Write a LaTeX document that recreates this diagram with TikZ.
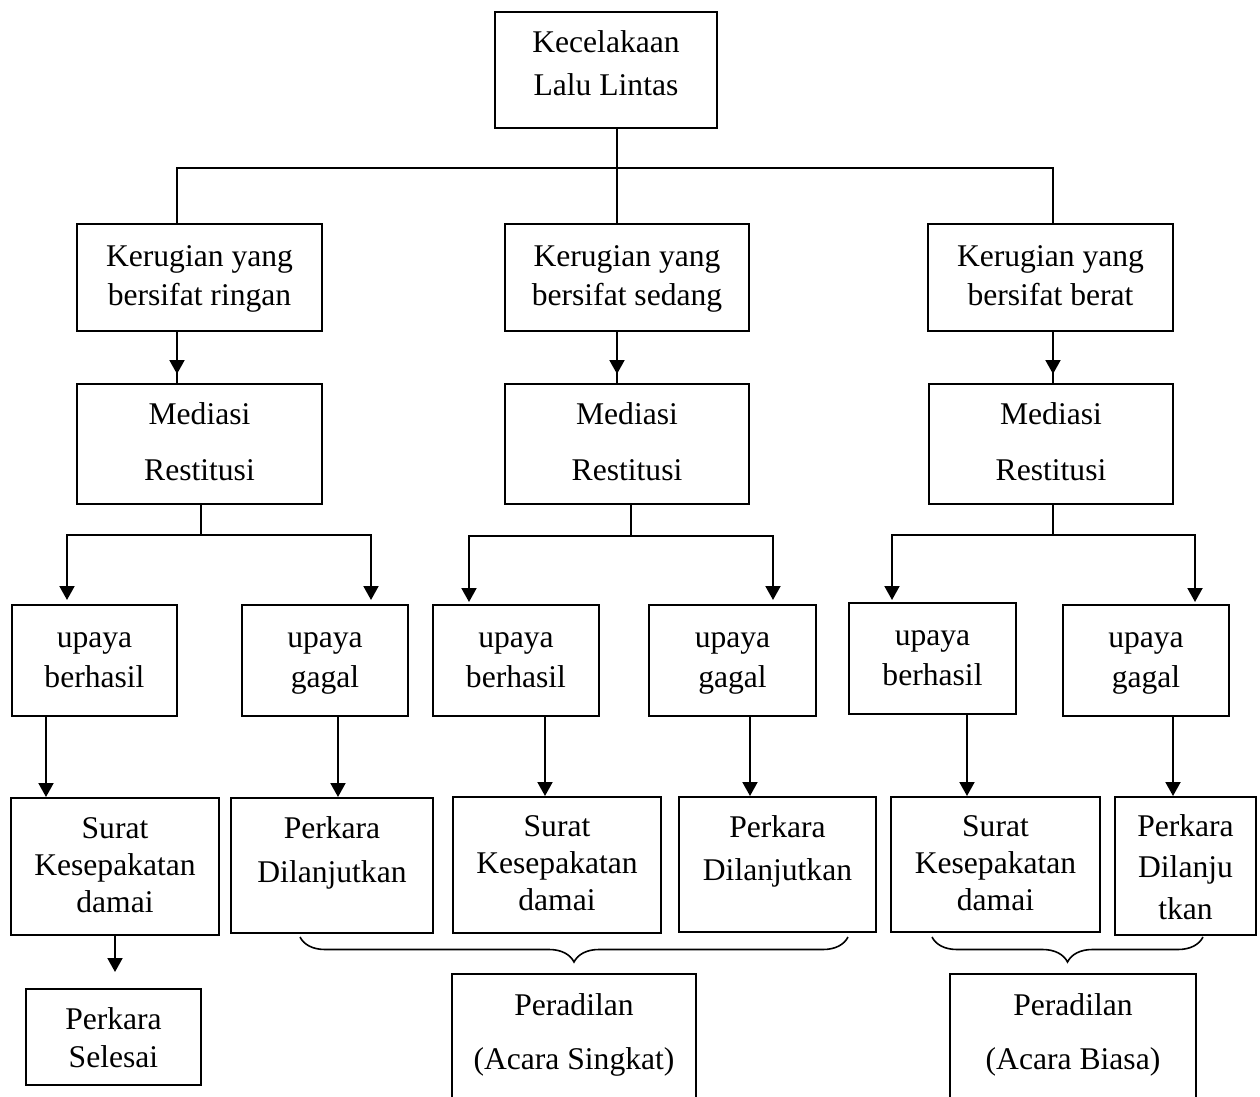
\documentclass[tikz,border=0pt]{standalone}
\usepackage{fontspec}
\setmainfont{Liberation Serif}
\usetikzlibrary{arrows.meta,decorations.pathreplacing,decorations.markings}
\newcommand\setfs[1]{\fontsize{15.8pt}{#1pt}\selectfont}
\newcommand\mytop{\rule{0pt}{12pt}}
\newcommand\mybot[1]{\rule[-#1pt]{0pt}{#1pt}}
\begin{document}
\begin{tikzpicture}[x=0.5pt,y=-0.5pt,line width=1pt,
  box/.style={draw,rectangle,inner sep=0pt,align=center,font=\setfs{20}},
  sz/.style 2 args={minimum width={#1*0.5pt},minimum height={#2*0.5pt}},
  arr/.style={-{Triangle[width=7.5pt,length=7pt]}},
  midarr/.style={postaction={decorate},decoration={markings,mark=at position 21pt with {\arrow{Triangle[width=7.5pt,length=7pt]}}}},
  brc/.style={decorate,decoration={brace,mirror,amplitude=12.5pt},line width=0.8pt}]
\fill[white] (0,0) rectangle (1260,1097);
\useasboundingbox (0,0) rectangle (1260,1097);

% top
\node[box,sz={222}{116},font=\setfs{21.5}] (top) at (606,70) {\mytop Kecelakaan\\Lalu Lintas\mybot{7.5}};
% row 2
\node[box,sz={245}{107}] (r2l) at (199.5,277.5) {\mytop Kerugian yang\\bersifat ringan\mybot{3.5}};
\node[box,sz={244}{107}] (r2m) at (627,277.5) {\mytop Kerugian yang\\bersifat sedang\mybot{3.5}};
\node[box,sz={245}{107}] (r2r) at (1050.5,277.5) {\mytop Kerugian yang\\bersifat berat\mybot{3.5}};
% row 3
\node[box,sz={245}{120},font=\setfs{28}] (r3l) at (199.5,444) {\mytop Mediasi\\Restitusi\mybot{4}};
\node[box,sz={244}{120},font=\setfs{28}] (r3m) at (627,444) {\mytop Mediasi\\Restitusi\mybot{4}};
\node[box,sz={244}{120},font=\setfs{28}] (r3r) at (1051,444) {\mytop Mediasi\\Restitusi\mybot{4}};
% row 4
\node[box,sz={165}{111}] (r4a) at (94.5,660.5) {\mytop upaya\\berhasil\mybot{5.5}};
\node[box,sz={166}{111}] (r4b) at (325,660.5) {\mytop upaya\\gagal\mybot{5.5}};
\node[box,sz={166}{111}] (r4c) at (516,660.5) {\mytop upaya\\berhasil\mybot{5.5}};
\node[box,sz={167}{111}] (r4d) at (732.5,660.5) {\mytop upaya\\gagal\mybot{5.5}};
\node[box,sz={167}{111}] (r4e) at (932.5,658.5) {\mytop upaya\\berhasil\mybot{5.5}};
\node[box,sz={166}{111}] (r4f) at (1146,660.5) {\mytop upaya\\gagal\mybot{5.5}};
% row 5
\node[box,sz={208}{137},font=\setfs{18.5}] (r5a) at (115,866.5) {\mytop Surat\\Kesepakatan\\damai\mybot{3.5}};
\node[box,sz={202}{135},font=\setfs{22}] (r5b) at (332,865.5) {\mytop Perkara\\Dilanjutkan\mybot{17.5}};
\node[box,sz={208}{136},font=\setfs{18.5}] (r5c) at (557,865) {\mytop Surat\\Kesepakatan\\damai\mybot{3.5}};
\node[box,sz={197}{135},font=\setfs{21.5}] (r5d) at (777.5,864.5) {\mytop Perkara\\Dilanjutkan\mybot{18}};
\node[box,sz={209}{135},font=\setfs{18.5}] (r5e) at (995.5,864.5) {\mytop Surat\\Kesepakatan\\damai\mybot{3.5}};
\node[box,sz={141}{138},font=\setfs{20.75}] (r5f) at (1185.5,866) {\mytop Perkara\\Dilanju\\tkan\mybot{0.5}};
% row 6
\node[box,sz={175}{96},font=\setfs{19}] (sel) at (113.5,1037) {\mytop Perkara\\Selesai\mybot{0.5}};
\node[box,draw=none,sz={242}{122},font=\setfs{27}] (p1) at (574,1036) {\mytop Peradilan\\(Acara Singkat)\mybot{6}};
\node[box,draw=none,sz={244}{122},font=\setfs{27}] (p2) at (1073,1036) {\mytop Peradilan\\(Acara Biasa)\mybot{6}};
\draw (p1.south west) -- (p1.north west) -- (p1.north east) -- (p1.south east);
\draw (p2.south west) -- (p2.north west) -- (p2.north east) -- (p2.south east);

% top tree
\coordinate (j0) at (617,168);
\coordinate (hL) at (177,168);
\coordinate (hR) at (1053,168);
\draw (r2l.north -| hL) -- (hL) -- (hR) -- (r2r.north -| hR);
\draw (top.south -| j0) -- (r2m.north -| j0);

% row 2 -> row 3
\draw[midarr] (r2l.south -| hL) -- (r3l.north -| hL);
\draw[midarr] (r2m.south -| j0) -- (r3m.north -| j0);
\draw[midarr] (r2r.south -| hR) -- (r3r.north -| hR);

% row 3 -> row 4
\coordinate (mL) at (201,535);
\coordinate (aL) at (67,535);
\coordinate (bL) at (371,535);
\coordinate (mM) at (631,536);
\coordinate (aM) at (469,536);
\coordinate (bM) at (773,536);
\coordinate (mR) at (1053,535);
\coordinate (aR) at (892,535);
\coordinate (bR) at (1195,535);
\draw (r3l.south -| mL) -- (mL);
\draw[arr,shorten >=2pt] (mL) -- (aL) -- (r4a.north -| aL);
\draw[arr,shorten >=2pt] (mL) -- (bL) -- (r4b.north -| bL);
\draw (r3m.south -| mM) -- (mM);
\draw[arr,shorten >=1pt] (mM) -- (aM) -- (r4c.north -| aM);
\draw[arr,shorten >=2pt] (mM) -- (bM) -- (r4d.north -| bM);
\draw (r3r.south -| mR) -- (mR);
\draw[arr,shorten >=1pt] (mR) -- (aR) -- (r4e.north -| aR);
\draw[arr,shorten >=1pt] (mR) -- (bR) -- (r4f.north -| bR);

% row 4 -> row 5
\coordinate (xa) at (46,0);
\coordinate (xb) at (338,0);
\coordinate (xc) at (545,0);
\coordinate (xd) at (750,0);
\coordinate (xe) at (967,0);
\coordinate (xf) at (1173,0);
\draw[arr] (r4a.south -| xa) -- (r5a.north -| xa);
\draw[arr] (r4b.south -| xb) -- (r5b.north -| xb);
\draw[arr] (r4c.south -| xc) -- (r5c.north -| xc);
\draw[arr] (r4d.south -| xd) -- (r5d.north -| xd);
\draw[arr] (r4e.south -| xe) -- (r5e.north -| xe);
\draw[arr] (r4f.south -| xf) -- (r5f.north -| xf);

% row 5 -> Perkara Selesai
\draw[arr,shorten >=8pt] (r5a.south) -- (r5a.south |- sel.north);

% braces
\coordinate (b1l) at (300,937);
\coordinate (b1r) at (848,937);
\coordinate (b2l) at (932,937);
\coordinate (b2r) at (1203,937);
\draw[brc] (b1l) -- (b1r);
\draw[brc] (b2l) -- (b2r);
\end{tikzpicture}
\end{document}
